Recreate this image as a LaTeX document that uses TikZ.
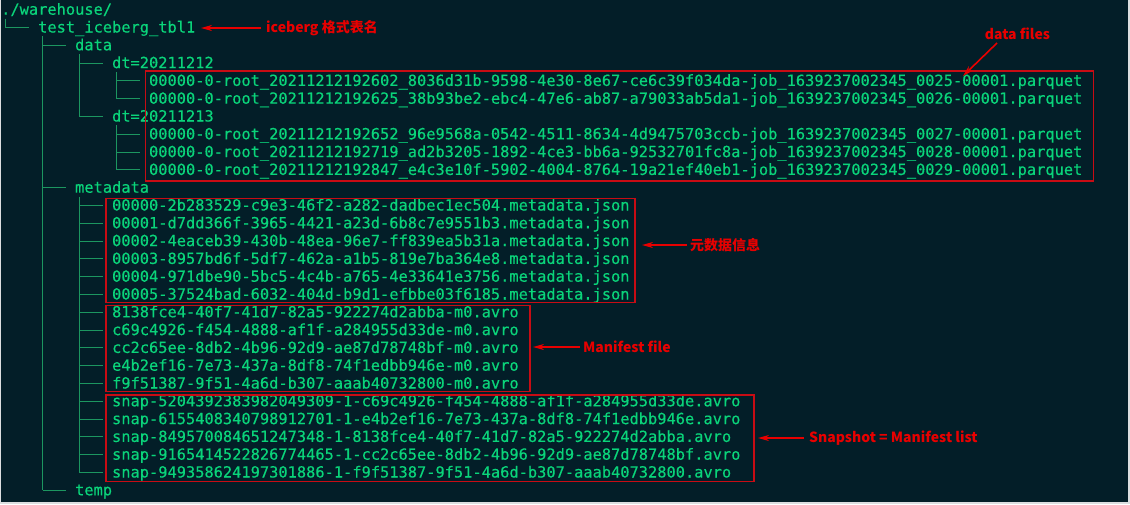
\documentclass[tikz,border=0pt]{standalone}
\usepackage{fontspec}
\newfontfamily\termfont{DejaVu Sans Mono}[FakeBold=0.35]
\newfontfamily\cjk{Noto Sans CJK SC}
\usetikzlibrary{arrows.meta}
\definecolor{bgdark}{RGB}{3,30,40}
\definecolor{frame}{RGB}{220,222,224}
\definecolor{txtgreen}{RGB}{10,212,122}
\definecolor{treegreen}{RGB}{28,150,96}
\definecolor{boxred}{RGB}{200,12,20}
\definecolor{labred}{RGB}{232,0,0}
\tikzset{
  ln/.style={anchor=base west, inner sep=0pt, text=txtgreen,
    font=\termfont\fontsize{15.35}{17.8}\selectfont},
  tree/.style={draw=treegreen, line width=1pt},
  redbox/.style={draw=boxred, line width=1.4pt},
  lab/.style={inner sep=0pt, text=labred, font=\cjk\bfseries\fontsize{14}{16}\selectfont},
  redarrow/.style={draw=labred, line width=1.6pt, -{Stealth[length=11pt,width=6pt]}}
}
\begin{document}
\begin{tikzpicture}[x=1pt,y=-1pt]
\fill[frame] (0,0) rectangle (1130,504);
\fill[bgdark] (1,0) rectangle (1128,502);
\useasboundingbox (0,0) rectangle (1130,504);
% text lines: x(c)=1+9.24c, baseline b_i=14.7+17.8i
\node[ln] (r0)  at (1,14.7)      {./warehouse/};
\node[ln] (r1)  at (37.96,32.5)  {test\_iceberg\_tbl1};
\node[ln] (r2)  at (74.92,50.3)  {data};
\node[ln] (r3)  at (111.88,68.1) {dt=20211212};
\node[ln] (r4)  at (148.84,85.9) {00000-0-root\_20211212192602\_8036d31b-9598-4e30-8e67-ce6c39f034da-job\_1639237002345\_0025-00001.parquet};
\node[ln] (r5)  at (148.84,103.7){00000-0-root\_20211212192625\_38b93be2-ebc4-47e6-ab87-a79033ab5da1-job\_1639237002345\_0026-00001.parquet};
\node[ln] (r6)  at (111.88,121.5){dt=20211213};
\node[ln] (r7)  at (148.84,139.3){00000-0-root\_20211212192652\_96e9568a-0542-4511-8634-4d9475703ccb-job\_1639237002345\_0027-00001.parquet};
\node[ln] (r8)  at (148.84,157.1){00000-0-root\_20211212192719\_ad2b3205-1892-4ce3-bb6a-92532701fc8a-job\_1639237002345\_0028-00001.parquet};
\node[ln] (r9)  at (148.84,174.9){00000-0-root\_20211212192847\_e4c3e10f-5902-4004-8764-19a21ef40eb1-job\_1639237002345\_0029-00001.parquet};
\node[ln] (r10) at (74.92,192.7) {metadata};
\node[ln] (r11) at (111.88,210.5){00000-2b283529-c9e3-46f2-a282-dadbec1ec504.metadata.json};
\node[ln] (r12) at (111.88,228.3){00001-d7dd366f-3965-4421-a23d-6b8c7e9551b3.metadata.json};
\node[ln] (r13) at (111.88,246.1){00002-4eaceb39-430b-48ea-96e7-ff839ea5b31a.metadata.json};
\node[ln] (r14) at (111.88,263.9){00003-8957bd6f-5df7-462a-a1b5-819e7ba364e8.metadata.json};
\node[ln] (r15) at (111.88,281.7){00004-971dbe90-5bc5-4c4b-a765-4e33641e3756.metadata.json};
\node[ln] (r16) at (111.88,299.5){00005-37524bad-6032-404d-b9d1-efbbe03f6185.metadata.json};
\node[ln] (r17) at (111.88,317.3){8138fce4-40f7-41d7-82a5-922274d2abba-m0.avro};
\node[ln] (r18) at (111.88,335.1){c69c4926-f454-4888-af1f-a284955d33de-m0.avro};
\node[ln] (r19) at (111.88,352.9){cc2c65ee-8db2-4b96-92d9-ae87d78748bf-m0.avro};
\node[ln] (r20) at (111.88,370.7){e4b2ef16-7e73-437a-8df8-74f1edbb946e-m0.avro};
\node[ln] (r21) at (111.88,388.5){f9f51387-9f51-4a6d-b307-aaab40732800-m0.avro};
\node[ln] (r22) at (111.88,406.3){snap-5204392383982049309-1-c69c4926-f454-4888-af1f-a284955d33de.avro};
\node[ln] (r23) at (111.88,424.1){snap-6155408340798912701-1-e4b2ef16-7e73-437a-8df8-74f1edbb946e.avro};
\node[ln] (r24) at (111.88,441.9){snap-849570084651247348-1-8138fce4-40f7-41d7-82a5-922274d2abba.avro};
\node[ln] (r25) at (111.88,459.7){snap-9165414522826774465-1-cc2c65ee-8db2-4b96-92d9-ae87d78748bf.avro};
\node[ln] (r26) at (111.88,477.5){snap-949358624197301886-1-f9f51387-9f51-4a6d-b307-aaab40732800.avro};
\node[ln] (r27) at (74.92,495.3) {temp};
% tree verticals (col 0,4,8,12 at x 5.6, 42.56, 79.52, 116.48)
\draw[tree] (5.6,18.6) -- (5.6,27.5);
\draw[tree] (42.56,36.4) -- (42.56,490.3);
\draw[tree] (79.52,54.2) -- (79.52,116.5);
\draw[tree] (116.48,72) -- (116.48,98.7);
\draw[tree] (116.48,125.4) -- (116.48,169.9);
\draw[tree] (79.52,196.6) -- (79.52,472.5);
% tree horizontals
\draw[tree] (5.6,27.5) -- (28.72,27.5);
\foreach \y in {45.3,187.7,490.3} \draw[tree] (42.56,\y) -- (65.68,\y);
\foreach \y in {63.1,116.5} \draw[tree] (79.52,\y) -- (102.64,\y);
\foreach \y in {80.9,98.7,134.3,152.1,169.9} \draw[tree] (116.48,\y) -- (139.6,\y);
\foreach \y in {205.5,223.3,241.1,258.9,276.7,294.5,312.3,330.1,347.9,365.7,383.5,401.3,419.1,436.9,454.7,472.5}
  \draw[tree] (79.52,\y) -- (102.64,\y);
% red boxes
\draw[redbox] (145.5,71) rectangle (1093.5,181);
\draw[redbox] (106,198.5) rectangle (635,302.5);
\draw[redbox] (106,305.5) rectangle (530,391.5);
\draw[redbox] (106,395) rectangle (754,481.5);
% labels
\node[lab, anchor=west] (lab1) at (266,28) {iceberg 格式表名};
\node[lab] (lab2) at (1017.5,34) {data files};
\node[lab, anchor=west] (lab3) at (690,245) {元数据信息};
\node[lab, anchor=west] (lab4) at (583,347) {Manifest file};
\node[lab, anchor=west] (lab5) at (809,438) {Snapshot = Manifest list};
\coordinate (t1) at (201,28);
\coordinate (s2) at (997,43);
\coordinate (t2) at (963,76);
\coordinate (t3) at (642,245);
\coordinate (t4) at (533,347);
\coordinate (t5) at (758,438);
\draw[redarrow, shorten <=5pt] (lab1.west) -- (t1);
\draw[redarrow] (s2) -- (t2);
\draw[redarrow, shorten <=3pt] (lab3.west) -- (t3);
\draw[redarrow, shorten <=3pt] (lab4.west) -- (t4);
\draw[redarrow, shorten <=5pt] (lab5.west) -- (t5);
\end{tikzpicture}
\end{document}
